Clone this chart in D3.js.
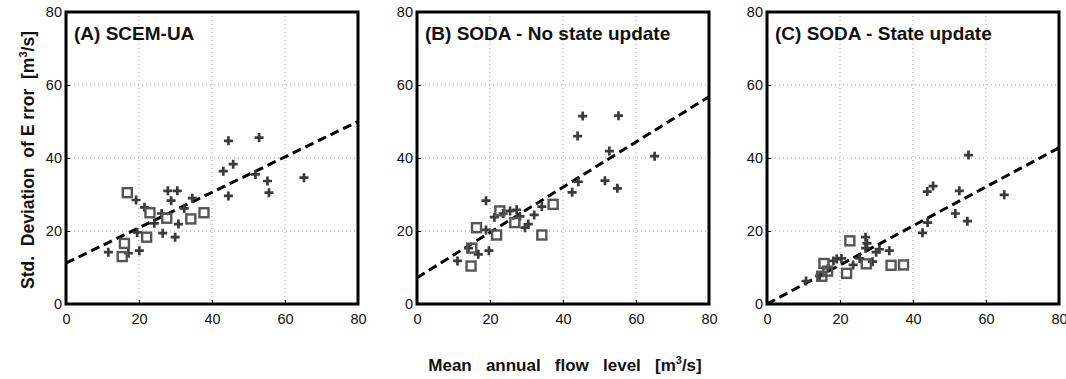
<!DOCTYPE html>
<html>
<head>
<meta charset="utf-8">
<script src="https://cdn.jsdelivr.net/npm/d3@7"></script>
<style>
  body { margin: 0; background: #fff; }
  svg { display: block; font-family: "Liberation Sans", Arial, Helvetica, sans-serif; }
</style>
</head>
<body>
<svg id="chart" width="1066" height="379"></svg>
<script>
// Panel titles
const panelTitles = ["(A) SCEM-UA", "(B) SODA - No state update", "(C) SODA - State update"];

// Axis ticks (both axes share the same 0-80 range)
const tickValues = [0, 20, 40, 60, 80];

// Mean annual flow level [m3/s] vs std. deviation of error [m3/s], "+" stations
const plusA = [[11.6,14.2],[17.1,13.9],[20.1,14.6],[19.2,28.5],[19.5,19.6],[21.5,26.5],[24.2,22.1],
  [26.2,24.8],[26.5,19.4],[27.9,31.0],[28.8,28.3],[30.5,31.0],[29.9,18.3],[30.8,21.9],[32.4,26.2],
  [34.6,29.0],[43.1,36.4],[44.5,44.7],[44.5,29.6],[45.8,38.3],[51.9,35.5],[52.9,45.6],[55.2,33.7],
  [55.6,30.5],[65.2,34.6]];
const plusB = [[11.1,11.8],[14.1,15.3],[16.8,13.6],[19.7,14.6],[18.9,28.3],[18.9,20.3],[21.2,23.8],
  [23.6,24.8],[25.5,25.5],[27.3,25.8],[28.2,24.0],[29.6,20.9],[30.5,21.9],[32.1,24.4],[34.2,26.7],
  [42.5,30.6],[44.2,33.5],[44.0,46.0],[45.4,51.5],[51.5,33.8],[52.7,41.9],[54.9,31.7],[55.2,51.6],
  [65.1,40.5]];
const plusC = [[10.7,6.3],[14.4,7.7],[16.7,9.8],[18.2,11.8],[19.1,12.3],[20.4,12.5],[23.6,10.7],
  [25.4,12.5],[27.0,18.3],[27.4,16.6],[27.0,15.3],[28.9,11.6],[29.9,14.2],[30.8,15.0],[33.5,14.6],
  [42.6,19.5],[44.0,22.3],[43.9,30.8],[45.5,32.3],[51.6,24.8],[52.7,31.0],[54.9,22.7],[55.2,40.8],
  [65.0,29.9]];

// Square stations
const squareA = [[16.8,30.5],[16.0,16.6],[15.4,13.0],[22.1,18.3],[23.0,25.0],[27.6,23.5],[34.2,23.3],[37.8,25.0]];
const squareB = [[16.3,20.9],[14.8,10.4],[15.0,15.3],[21.8,18.9],[22.7,25.5],[26.8,22.3],[34.2,18.9],[37.3,27.3]];
const squareC = [[15.6,11.1],[15.0,7.6],[16.6,9.0],[21.8,8.4],[22.7,17.3],[27.2,11.0],[34.0,10.6],[37.4,10.7]];

// Linear fits: intercept and slope per panel
const fitIntercept = [11.2, 7.2, 0.0];
const fitSlope = [0.485, 0.62, 0.535];

const plusSets = [plusA, plusB, plusC];
const squareSets = [squareA, squareB, squareC];

const svg = d3.select("#chart");
const panelLeft = [66, 417, 767];
const panelTop = 12, size = 292;

panelLeft.forEach((left, i) => {
  const x = d3.scaleLinear().domain([0, 80]).range([0, size]);
  const y = d3.scaleLinear().domain([0, 80]).range([size, 0]);
  const g = svg.append("g").attr("transform", `translate(${left},${panelTop})`);

  const clipId = "clip" + i;
  g.append("clipPath").attr("id", clipId)
    .append("rect").attr("width", size).attr("height", size);

  // dotted grid
  g.append("g").selectAll("line").data([20, 40, 60]).join("line")
    .attr("x1", d => x(d)).attr("x2", d => x(d)).attr("y1", 0).attr("y2", size)
    .attr("stroke", "#a0a0a0").attr("stroke-width", 1).attr("stroke-dasharray", "1,3");
  g.append("g").selectAll("line").data([20, 40, 60]).join("line")
    .attr("y1", d => y(d)).attr("y2", d => y(d)).attr("x1", 0).attr("x2", size)
    .attr("stroke", "#a0a0a0").attr("stroke-width", 1).attr("stroke-dasharray", "1,3");

  // axes: labels only, frame drawn separately
  const xAxis = g.append("g").attr("transform", `translate(0,${size})`)
    .call(d3.axisBottom(x).tickValues(tickValues).tickSize(-4).tickPadding(10));
  const yAxis = g.append("g")
    .call(d3.axisLeft(y).tickValues(tickValues).tickSize(-4).tickPadding(4));
  [xAxis, yAxis].forEach(a => {
    a.select(".domain").remove();
    a.selectAll(".tick line").attr("stroke", "#000").attr("stroke-width", 1);
    a.selectAll(".tick text").attr("font-size", 14.5).attr("fill", "#111")
      .attr("font-family", "Liberation Sans, Arial, sans-serif");
  });

  const plot = g.append("g").attr("clip-path", `url(#${clipId})`);

  // regression line
  plot.append("line")
    .attr("x1", x(0)).attr("y1", y(fitIntercept[i]))
    .attr("x2", x(80)).attr("y2", y(fitIntercept[i] + fitSlope[i] * 80))
    .attr("stroke", "#000").attr("stroke-width", 3).attr("stroke-dasharray", "9,5");

  // plus markers
  plot.selectAll("path.plus").data(plusSets[i]).join("path")
    .attr("class", "plus")
    .attr("transform", d => `translate(${x(d[0])},${y(d[1])})`)
    .attr("d", "M-4.5,0H4.5M0,-4.5V4.5")
    .attr("stroke", "#3a3a3a").attr("stroke-width", 2.7).attr("fill", "none");

  // square markers
  plot.selectAll("rect.sq").data(squareSets[i]).join("rect")
    .attr("class", "sq")
    .attr("x", d => x(d[0]) - 4.5).attr("y", d => y(d[1]) - 4.5)
    .attr("width", 9).attr("height", 9)
    .attr("stroke", "#555").attr("stroke-width", 2.4).attr("fill", "none");

  // frame
  g.append("rect").attr("width", size).attr("height", size)
    .attr("fill", "none").attr("stroke", "#000").attr("stroke-width", 3);

  // panel title
  g.append("text").attr("x", 8).attr("y", 28)
    .attr("font-size", 19).attr("font-weight", "bold").attr("fill", "#111")
    .text(panelTitles[i]);
});

// y-axis title
const yt = svg.append("text")
  .attr("transform", "translate(34,160) rotate(-90)")
  .attr("text-anchor", "middle").attr("font-size", 17.5).attr("font-weight", "bold")
  .attr("fill", "#111").style("white-space", "pre");
yt.append("tspan").text("Std.  Deviation  of E rror  [m");
yt.append("tspan").attr("font-size", 11).attr("dy", -7).text("3");
yt.append("tspan").attr("dy", 7).text("/s]");

// x-axis title
const xt = svg.append("text")
  .attr("x", 565).attr("y", 371)
  .attr("text-anchor", "middle").attr("font-size", 17).attr("font-weight", "bold")
  .attr("fill", "#111").style("white-space", "pre");
xt.append("tspan").text("Mean   annual   flow   level   [m");
xt.append("tspan").attr("font-size", 11).attr("dy", -7).text("3");
xt.append("tspan").attr("dy", 7).text("/s]");
</script>
</body>
</html>
